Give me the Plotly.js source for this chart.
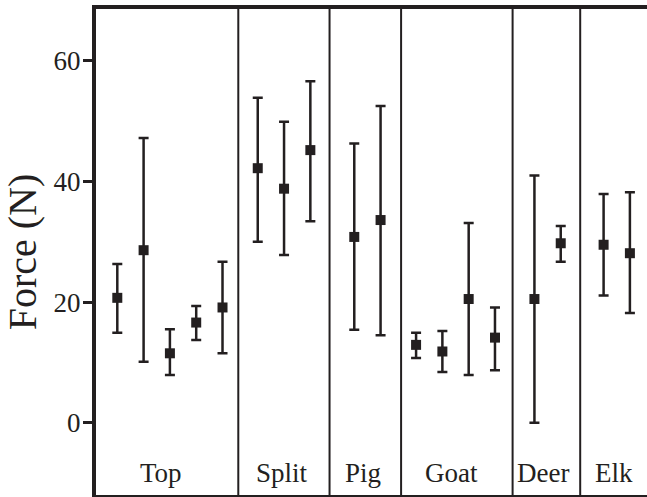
<!DOCTYPE html>
<html>
<head>
<meta charset="utf-8">
<script src="https://cdn.plot.ly/plotly-3.0.1.min.js"></script>
<style>html,body{margin:0;padding:0;background:#fff;}#chart{width:647px;height:497px;}</style>
</head>
<body>
<div id="chart"></div>
<script>
// ---- data ----
const groups      = ['Top', 'Split', 'Pig', 'Goat', 'Deer', 'Elk'];
const groupStart  = [0.81, 6.15, 9.82, 12.17, 16.67, 19.30];   // slot position of first point in each group
const separators  = [5.41, 8.88, 11.60, 15.84, 18.41];          // slot positions of the dividing lines
const labelPos    = [2.49, 7.07, 10.15, 13.50, 16.98, 19.71];   // slot positions of the group labels

const meanTop   = [20.7, 28.6, 11.5, 16.6, 19.1];
const upperTop  = [26.3, 47.2, 15.5, 19.35, 26.7];
const lowerTop  = [14.9, 10.1, 7.9, 13.7, 11.5];

const meanSplit  = [42.2, 38.8, 45.2];
const upperSplit = [53.9, 49.9, 56.6];
const lowerSplit = [30.0, 27.8, 33.4];

const meanPig  = [30.8, 33.6];
const upperPig = [46.3, 52.5];
const lowerPig = [15.4, 14.5];

const meanGoat  = [12.9, 11.8, 20.5, 14.1];
const upperGoat = [14.9, 15.2, 33.1, 19.1];
const lowerGoat = [10.7, 8.4, 7.9, 8.7];

const meanDeer  = [20.5, 29.75];
const upperDeer = [41.0, 32.6];
const lowerDeer = [0.0, 26.7];

const meanElk  = [29.5, 28.1];
const upperElk = [37.9, 38.2];
const lowerElk = [21.1, 18.2];

const yTicks = [0, 20, 40, 60];
const yTitle = 'Force (N)';

// ---- build ----
const means  = [meanTop, meanSplit, meanPig, meanGoat, meanDeer, meanElk];
const uppers = [upperTop, upperSplit, upperPig, upperGoat, upperDeer, upperElk];
const lowers = [lowerTop, lowerSplit, lowerPig, lowerGoat, lowerDeer, lowerElk];

const ink = '#231f20';
const serif = 'Liberation Serif, Times New Roman, serif';

let xs = [], ys = [], ep = [], em = [];
groups.forEach((g, gi) => {
  means[gi].forEach((m, i) => {
    xs.push(groupStart[gi] + i);
    ys.push(m);
    ep.push(uppers[gi][i] - m);
    em.push(m - lowers[gi][i]);
  });
});

const trace = {
  type: 'scatter', mode: 'markers', x: xs, y: ys,
  marker: {symbol: 'square', size: 10, color: ink},
  error_y: {type: 'data', symmetric: false, array: ep, arrayminus: em,
            color: ink, thickness: 2.5, width: 5},
  hoverinfo: 'skip', showlegend: false
};

const shapes = separators.map(s => ({
  type: 'line', xref: 'x', yref: 'paper', x0: s, x1: s, y0: 0, y1: 1,
  line: {color: ink, width: 2}
}));

const annotations = groups.map((g, gi) => ({
  text: g, x: labelPos[gi], y: -8.3, xref: 'x', yref: 'y',
  showarrow: false, xanchor: 'center', yanchor: 'middle',
  font: {family: serif, size: 27, color: ink}
}));

const layout = {
  width: 647, height: 497,
  margin: {l: 96, r: 0, t: 9, b: 2, pad: 0},
  paper_bgcolor: '#fff', plot_bgcolor: '#fff',
  showlegend: false,
  xaxis: {
    range: [0, 20.95], showgrid: false, zeroline: false,
    showticklabels: false, ticks: '',
    showline: true, mirror: true, linecolor: ink, linewidth: 4
  },
  yaxis: {
    range: [-12.0, 68.6], showgrid: false, zeroline: false,
    tickmode: 'array', tickvals: yTicks, ticktext: yTicks.map(String),
    ticks: 'outside', ticklen: 9, tickwidth: 3, tickcolor: ink,
    ticklabelstandoff: -3,
    tickfont: {family: serif, size: 27, color: ink},
    showline: true, mirror: false, linecolor: ink, linewidth: 4,
    title: {text: yTitle, font: {family: serif, size: 40, color: ink}, standoff: 23}
  },
  shapes: shapes,
  annotations: annotations
};

Plotly.newPlot('chart', [trace], layout, {staticPlot: true, displayModeBar: false});
</script>
</body>
</html>
